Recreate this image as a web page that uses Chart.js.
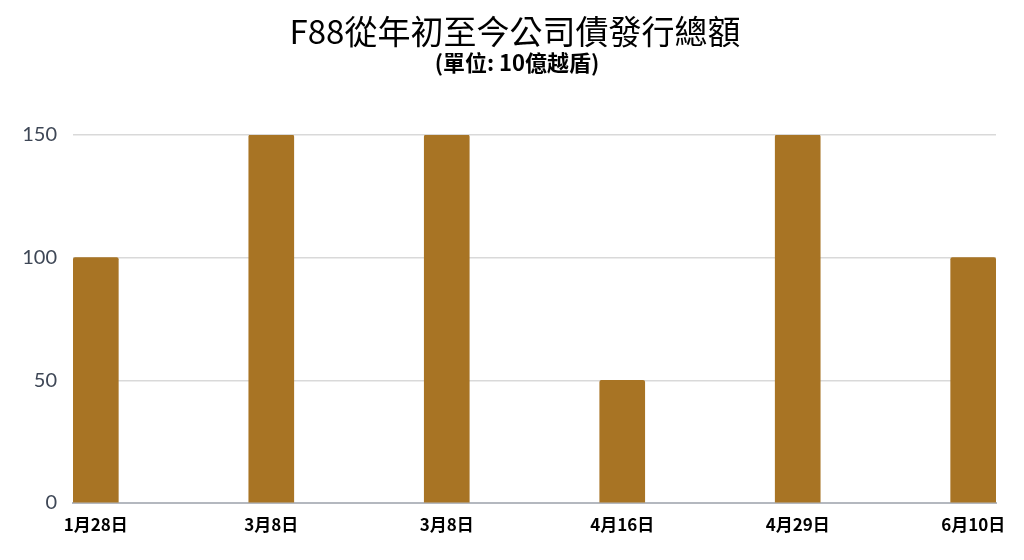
<!DOCTYPE html>
<html>
<head>
<meta charset="utf-8">
<script src="https://cdn.jsdelivr.net/npm/chart.js@4"></script>
<style>
  html, body { margin: 0; padding: 0; background: #fff; }
  #wrap { width: 1024px; height: 560px; }
</style>
</head>
<body>
<div id="wrap"><canvas id="issueChart"></canvas></div>
<script>
// issue dates and amounts (10 billion VND)
const issueDates = ['1月28日', '3月8日', '3月8日', '4月16日', '4月29日', '6月10日'];
const issueAmounts = [100, 150, 150, 50, 150, 100];
const yTicks = [0, 50, 100, 150];

const titleText = 'F88從年初至今公司債發行總額';
const subtitleText = '(單位: 10億越盾)';
const barColor = '#a87424';

// title sits a bit right of canvas centre in the original, so draw it by hand
const headingPlugin = {
  id: 'heading',
  afterDraw(chart) {
    const c = chart.ctx;
    c.save();
    c.fillStyle = '#000';
    c.textAlign = 'center';
    c.textBaseline = 'middle';
    c.font = '33px "Noto Sans CJK TC", sans-serif';
    c.fillText(titleText, 515, 31);
    c.font = 'bold 22px "Noto Sans CJK TC", sans-serif';
    c.fillText(subtitleText, 517, 63);
    c.restore();
  }
};

const ctx = document.getElementById('issueChart').getContext('2d');
new Chart(ctx, {
  type: 'bar',
  data: {
    datasets: [{
      data: issueAmounts.map((v, i) => ({ x: i, y: v })),
      backgroundColor: barColor,
      borderWidth: 0,
      borderRadius: 2,
      borderSkipped: 'bottom',
      barThickness: 45
    }]
  },
  options: {
    responsive: true,
    maintainAspectRatio: false,
    animation: false,
    layout: { padding: { left: 0, right: 28, top: 135, bottom: 0 } },
    plugins: {
      legend: { display: false },
      tooltip: { enabled: false },
      title: { display: false }
    },
    scales: {
      x: {
        type: 'linear',
        offset: false,
        min: -0.13,
        max: 5.13,
        grid: { display: false, drawTicks: false },
        border: { display: true, color: '#b4b8bf', width: 2 },
        afterBuildTicks: (scale) => { scale.ticks = issueDates.map((d, i) => ({ value: i })); },
        afterFit: (scale) => { scale.height = 57; },
        ticks: {
          autoSkip: false,
          maxRotation: 0,
          padding: 11,
          color: '#000',
          font: { family: '"Noto Sans CJK TC", sans-serif', size: 17, weight: 'bold' },
          callback: (v) => issueDates[v]
        }
      },
      y: {
        min: 0,
        max: 150,
        afterBuildTicks: (scale) => { scale.ticks = yTicks.map(v => ({ value: v })); },
        afterFit: (scale) => { scale.width = 73; },
        grid: { color: '#d9d9d9', lineWidth: 1.5, drawTicks: false },
        border: { display: false },
        ticks: {
          padding: 16,
          color: '#3e4756',
          font: { family: 'Lato, sans-serif', size: 20 }
        }
      }
    }
  },
  plugins: [headingPlugin]
});
</script>
</body>
</html>
